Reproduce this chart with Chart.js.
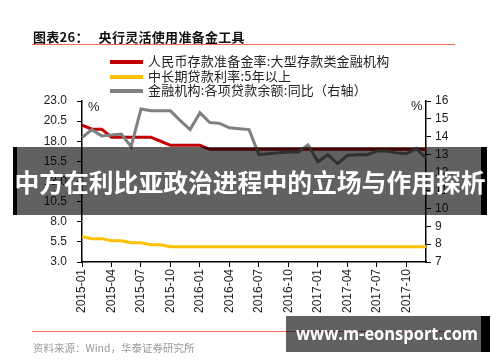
<!DOCTYPE html>
<html>
<head>
<meta charset="utf-8">
<script src="https://cdn.jsdelivr.net/npm/chart.js@4.4.1/dist/chart.umd.min.js"></script>
<style>
  html,body{margin:0;padding:0;background:#fff;}
  #wrap{position:relative;width:500px;height:362px;overflow:hidden;font-family:"Noto Sans CJK SC","Liberation Sans",sans-serif;}
  #c{position:absolute;left:0;top:0;}
  .abs{position:absolute;white-space:nowrap;}
  #title{left:33px;top:27px;font-size:13px;font-weight:bold;color:#111;letter-spacing:0.3px;}
  .rule{position:absolute;left:32px;width:423px;height:1px;background:#ee6a5a;}
  .lg{position:absolute;left:110px;font-size:13px;color:#222;line-height:14px;}
  .lg i{position:absolute;left:0;top:5px;width:33px;height:4px;}
  .lg span{position:absolute;left:38px;top:-1px;white-space:nowrap;letter-spacing:0.2px;}
  #src{left:33px;top:340px;font-size:10.5px;color:#999;}
  .pct{font-family:"Liberation Sans",sans-serif;font-size:13px;color:#222;}
  #banner{position:absolute;left:13px;top:147px;width:474px;height:68px;background:rgba(0,0,0,0.62);}
  #banner .l{position:absolute;left:0;top:0;width:4px;height:68px;background:#000;}
  #banner .r{position:absolute;right:0;top:0;width:6px;height:68px;background:#000;}
  #banner .t{position:absolute;left:0;width:474px;top:20px;text-align:center;color:#fff;font-weight:bold;font-size:24.8px;line-height:28px;font-family:"Noto Sans CJK SC",sans-serif;white-space:nowrap;}
  #wm{position:absolute;left:286px;top:316px;width:204px;height:36px;background:rgba(0,0,0,0.62);}
  #wm .r{position:absolute;right:0;top:0;width:9px;height:36px;background:#000;}
  #wm .t{position:absolute;left:10px;top:7px;color:#fff;font-weight:bold;font-size:17px;line-height:22px;font-family:"Open Sans",sans-serif;white-space:nowrap;}
</style>
</head>
<body>
<div id="wrap">
  <canvas id="c" width="500" height="362"></canvas>
  <div id="title" class="abs">图表26：&nbsp;&nbsp;&nbsp;央行灵活使用准备金工具</div>
  <div class="rule" style="top:44px"></div>
  <div id="legend"></div>
  <div class="abs pct" style="left:88px;top:99px;">%</div>
  <div class="abs pct" style="left:411px;top:98px;">%</div>
  <div class="rule" style="top:331px"></div>
  <div id="src" class="abs">资料来源：Wind，华泰证券研究所</div>
  <div id="banner"><div class="l"></div><div class="r"></div><div class="t">中方在利比亚政治进程中的立场与作用探析</div></div>
  <div id="wm"><div class="r"></div><div class="t" id="wmt">www.m-eonsport.com</div></div>
</div>
<script>
const months = ["2015-01","2015-02","2015-03","2015-04","2015-05","2015-06","2015-07","2015-08","2015-09","2015-10","2015-11","2015-12",
  "2016-01","2016-02","2016-03","2016-04","2016-05","2016-06","2016-07","2016-08","2016-09","2016-10","2016-11","2016-12",
  "2017-01","2017-02","2017-03","2017-04","2017-05","2017-06","2017-07","2017-08","2017-09","2017-10","2017-11","2017-12"];
const seriesNames = ["人民币存款准备金率:大型存款类金融机构","中长期贷款利率:5年以上","金融机构:各项贷款余额:同比（右轴）"];
const rrrLarge = [20.0,19.5,19.5,18.5,18.5,18.5,18.5,18.5,18.0,17.5,17.5,17.5,
  17.5,17.0,17.0,17.0,17.0,17.0,17.0,17.0,17.0,17.0,17.0,17.0,
  17.0,17.0,17.0,17.0,17.0,17.0,17.0,17.0,17.0,17.0,17.0,17.0];
const loanRate5y = [6.15,5.90,5.90,5.65,5.65,5.40,5.40,5.15,5.15,4.90,4.90,4.90,
  4.90,4.90,4.90,4.90,4.90,4.90,4.90,4.90,4.90,4.90,4.90,4.90,
  4.90,4.90,4.90,4.90,4.90,4.90,4.90,4.90,4.90,4.90,4.90,4.90];
const loanGrowthYoY = [13.95,14.4,14.05,14.1,14.15,13.45,15.55,15.45,15.45,15.45,14.9,14.4,
  15.35,14.8,14.75,14.5,14.45,14.4,13.0,13.05,13.1,13.15,13.15,13.55,
  12.6,13.0,12.5,12.95,13.0,13.0,13.2,13.2,13.1,13.05,13.35,12.8];
const leftTicks = {min:3, max:23, step:2.5};
const rightTicks = {min:7, max:16, step:1};
const colors = ["#c00000","#ffc000","#808080"];

// legend
const lg = document.getElementById('legend');
const lgTops = [55,70,84];
seriesNames.forEach((n,i)=>{
  const d=document.createElement('div'); d.className='lg'; d.style.top=lgTops[i]+'px';
  d.innerHTML='<i style="background:'+colors[i]+'"></i><span>'+n+'</span>';
  lg.appendChild(d);
});
// fit watermark text width
const wmt=document.getElementById('wmt');
const w=wmt.getBoundingClientRect().width;
if(w>0){ wmt.style.transformOrigin='left center'; wmt.style.transform='scaleX('+(182/w)+')'; }

const tickFont = {family:"'Liberation Sans', Arial, sans-serif", size:12};
new Chart(document.getElementById('c'), {
  type:'line',
  data:{
    labels:months,
    datasets:[
      {label:seriesNames[0], data:rrrLarge, borderColor:colors[0], borderWidth:3, yAxisID:'y', order:2},
      {label:seriesNames[1], data:loanRate5y, borderColor:colors[1], borderWidth:3, yAxisID:'y', order:3},
      {label:seriesNames[2], data:loanGrowthYoY, borderColor:colors[2], borderWidth:3, yAxisID:'y1', order:1}
    ]
  },
  options:{
    responsive:false, animation:false,
    elements:{point:{radius:0}, line:{tension:0}},
    layout:{padding:{top:101,left:0,right:0,bottom:0}},
    plugins:{legend:{display:false}, tooltip:{enabled:false}},
    scales:{
      x:{
        grid:{display:true, drawOnChartArea:false, drawTicks:true, tickLength:5, color:'#000', lineWidth:1},
        border:{display:true, color:'#000', width:1.5},
        ticks:{autoSkip:false, maxRotation:90, minRotation:90, color:'#222', font:tickFont, padding:2,
          callback:function(v,i){ return i%3===0 ? months[i] : null; }},
        afterFit:function(s){ s.height=100; }
      },
      y:{
        position:'left', min:leftTicks.min, max:leftTicks.max,
        grid:{display:true, drawOnChartArea:false, drawTicks:true, tickLength:5, color:'#000'},
        border:{display:true, color:'#000', width:1.5},
        ticks:{stepSize:leftTicks.step, color:'#222', font:tickFont, padding:10, callback:v=>v.toFixed(1)},
        afterFit:function(s){ s.width=82; }
      },
      y1:{
        position:'right', min:rightTicks.min, max:rightTicks.max,
        grid:{display:true, drawOnChartArea:false, drawTicks:true, tickLength:5, color:'#000'},
        border:{display:true, color:'#000', width:1.5},
        ticks:{stepSize:rightTicks.step, color:'#222', font:tickFont, padding:4},
        afterFit:function(s){ s.width=74; }
      }
    }
  }
});
</script>
</body>
</html>
